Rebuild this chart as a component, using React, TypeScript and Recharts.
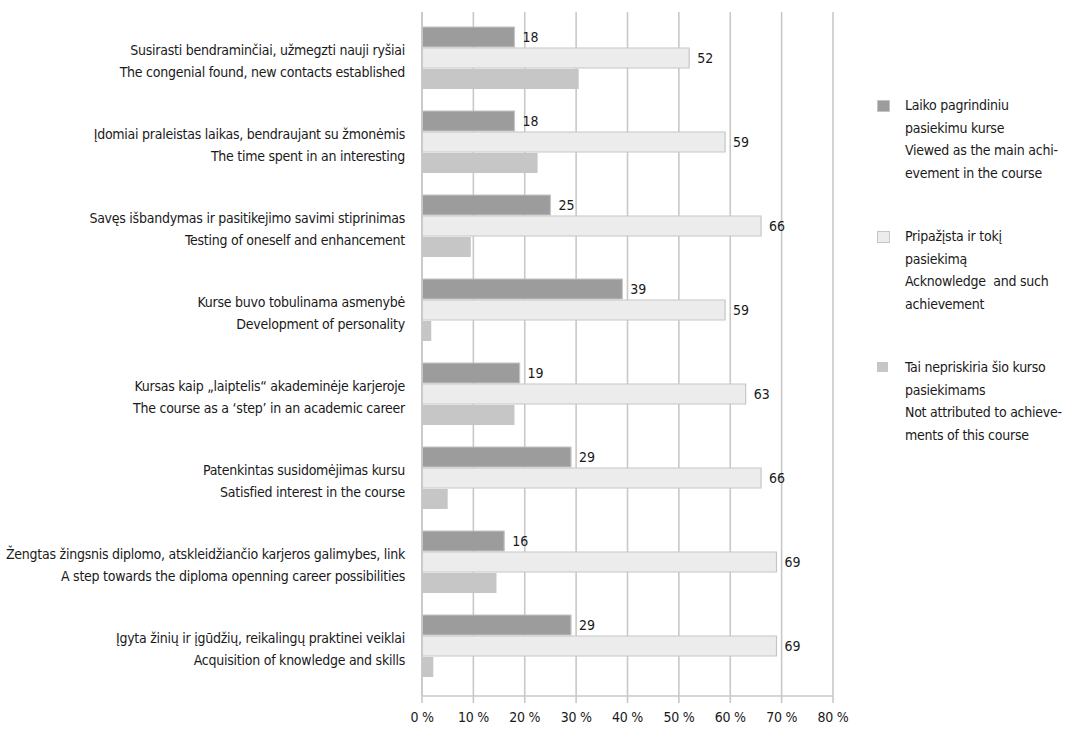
import React from "react";
import {
  BarChart,
  Bar,
  XAxis,
  YAxis,
  CartesianGrid,
  LabelList,
} from "recharts";

// category labels (Lithuanian first line, English second line)
const labelsLt = [
  "Susirasti bendraminčiai, užmegzti nauji ryšiai",
  "Įdomiai praleistas laikas, bendraujant su žmonėmis",
  "Savęs išbandymas ir pasitikejimo savimi stiprinimas",
  "Kurse buvo tobulinama asmenybė",
  "Kursas kaip „laiptelis“ akademinėje karjeroje",
  "Patenkintas susidomėjimas kursu",
  "Žengtas žingsnis diplomo, atskleidžiančio karjeros galimybes, link",
  "Įgyta žinių ir įgūdžių, reikalingų praktinei veiklai",
];
const labelsEn = [
  "The congenial found, new contacts established",
  "The time spent in an interesting",
  "Testing of oneself and enhancement",
  "Development of personality",
  "The course as a ‘step’ in an academic career",
  "Satisfied interest in the course",
  "A step towards the diploma openning career possibilities",
  "Acquisition of knowledge and skills",
];

// percentages
const mainAchievement = [18, 18, 25, 39, 19, 29, 16, 29];
const acknowledged = [52, 59, 66, 59, 63, 66, 69, 69];
const notAttributed = [30.5, 22.5, 9.5, 1.8, 18, 5, 14.5, 2.2];

const xTicks = [0, 10, 20, 30, 40, 50, 60, 70, 80];

const series = [
  {
    key: "main",
    fill: "#9c9c9c",
    stroke: "#c4c4c4",
    label: true,
    legend: [
      "Laiko pagrindiniu",
      "pasiekimu kurse",
      "Viewed as the main achi-",
      "evement in the course",
    ],
  },
  {
    key: "ack",
    fill: "#ececec",
    stroke: "#c6c6c6",
    label: true,
    legend: [
      "Pripažįsta ir tokį",
      "pasiekimą",
      "Acknowledge  and such",
      "achievement",
    ],
  },
  {
    key: "notAttr",
    fill: "#c6c6c6",
    stroke: "none",
    label: false,
    legend: [
      "Tai nepriskiria šio kurso",
      "pasiekimams",
      "Not attributed to achieve-",
      "ments of this course",
    ],
  },
];

const data = labelsLt.map((lt, i) => ({
  lt,
  en: labelsEn[i],
  main: mainAchievement[i],
  ack: acknowledged[i],
  notAttr: notAttributed[i],
}));

const FONT = "'DejaVu Sans Condensed', 'Liberation Sans Narrow', sans-serif";
const GRID = "#c8c8c8";
const TEXT = "#1a1a1a";
const FS = 14;
const LS = "-0.25px";

const CategoryTick = (props: any) => {
  const { x, y, payload, index } = props;
  return (
    <g style={{ letterSpacing: LS }}>
      <text x={x} y={y - 3} textAnchor="end" fontSize={FS} fill={TEXT}>
        {payload.value}
      </text>
      <text x={x} y={y + 19} textAnchor="end" fontSize={FS} fill={TEXT}>
        {labelsEn[index]}
      </text>
    </g>
  );
};

const LegendBox = () => (
  <div
    style={{
      position: "absolute",
      left: 877,
      top: 94,
      fontSize: FS,
      letterSpacing: LS,
      color: TEXT,
      lineHeight: "22.5px",
    }}
  >
    {series.map((s, i) => (
      <div key={s.key} style={{ position: "relative", marginBottom: i < 2 ? 41 : 0 }}>
        <div
          style={{
            position: "absolute",
            left: 0,
            top: 6,
            width: 11,
            height: 10,
            background: s.fill,
            border: s.stroke === "none" ? "none" : `1px solid ${s.stroke}`,
          }}
        />
        <div style={{ marginLeft: 28 }}>
          {s.legend.map((t) => (
            <div key={t} style={{ whiteSpace: "pre" }}>
              {t}
            </div>
          ))}
        </div>
      </div>
    ))}
  </div>
);

export default function App() {
  return (
    <div
      style={{
        position: "absolute",
        left: 0,
        top: 0,
        width: 1075,
        height: 731,
        background: "#fff",
        fontFamily: FONT,
      }}
    >
      <BarChart
        width={1075}
        height={731}
        data={data}
        layout="vertical"
        margin={{ top: 12, right: 242, left: 0, bottom: 0 }}
        barCategoryGap={11.5}
        barGap={1}
      >
        <CartesianGrid horizontal={false} stroke={GRID} strokeWidth={1.6} />
        <XAxis
          type="number"
          domain={[0, 80]}
          ticks={xTicks}
          interval={0}
          height={35}
          tickFormatter={(v) => `${v} %`}
          tick={{ fontSize: FS, fill: TEXT, style: { letterSpacing: LS } }}
          tickSize={7}
          tickMargin={9}
          tickLine={{ stroke: GRID, strokeWidth: 1.6 }}
          axisLine={{ stroke: GRID, strokeWidth: 1.6 }}
        />
        <YAxis
          type="category"
          dataKey="lt"
          width={422}
          padding={{ top: 3.5, bottom: 8.5 }}
          tickSize={0}
          tickMargin={17}
          tickLine={false}
          axisLine={{ stroke: GRID, strokeWidth: 1.6 }}
          tick={<CategoryTick />}
          interval={0}
        />
        {series.map((s) => (
          <Bar
            key={s.key}
            dataKey={s.key}
            fill={s.fill}
            stroke={s.stroke}
            strokeWidth={1.2}
            isAnimationActive={false}
          >
            {s.label && (
              <LabelList
                dataKey={s.key}
                position="right"
                offset={8}
                fontSize={FS}
                fill={TEXT}
              />
            )}
          </Bar>
        ))}
      </BarChart>
      <LegendBox />
    </div>
  );
}
